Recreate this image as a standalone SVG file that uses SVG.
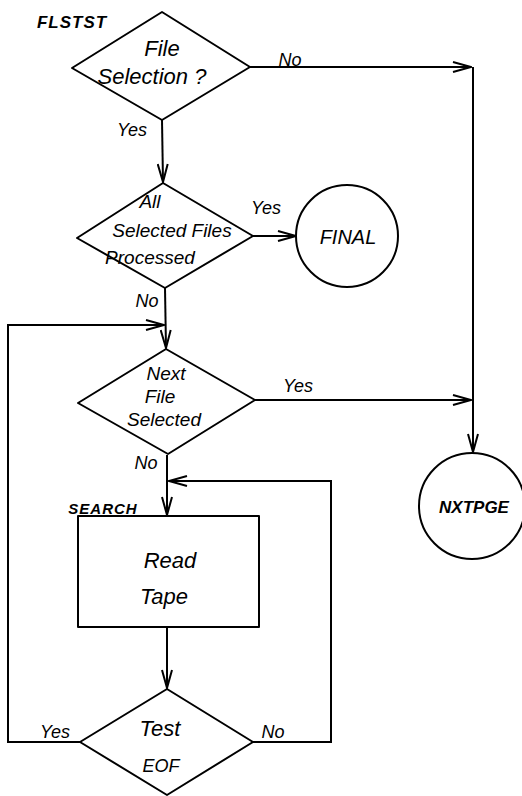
<svg xmlns="http://www.w3.org/2000/svg" width="522" height="796" viewBox="0 0 522 796">
<style>
.s{fill:none;stroke:#000;stroke-width:2;stroke-linejoin:round}
.t{font-family:"Liberation Sans",Arial,sans-serif;font-style:italic;fill:#000;text-anchor:middle}
.c{stroke:#000;stroke-width:2;fill:none}
</style>
<defs>
<marker id="ah" viewBox="0 0 20 12" markerWidth="20" markerHeight="12" refX="19" refY="6" orient="auto" markerUnits="userSpaceOnUse">
<path d="M1,1 L19,6 L1,11" fill="none" stroke="#000" stroke-width="2"/>
</marker>
</defs>
<rect width="522" height="796" fill="#fff"/>
<g id="connectors">
<path class="c" d="M250,67 L471,67" marker-end="url(#ah)"/>
<path class="c" d="M473,67 L473,452" marker-end="url(#ah)"/>
<path class="c" d="M162,120 L163,182" marker-end="url(#ah)"/>
<path class="c" d="M253,236 L296,236" marker-end="url(#ah)"/>
<path class="c" d="M165,288 L166,348" marker-end="url(#ah)"/>
<path class="c" d="M80,742 L8,742 L8,325 L164,325" marker-end="url(#ah)"/>
<path class="c" d="M255,400 L471,400" marker-end="url(#ah)"/>
<path class="c" d="M167,455 L167,515" marker-end="url(#ah)"/>
<path class="c" d="M167,627 L167,688" marker-end="url(#ah)"/>
<path class="c" d="M253,742 L331,742 L331,481 L169,481" marker-end="url(#ah)"/>
<text class="t" x="290" y="66" font-size="18">No</text>
<text class="t" x="132" y="136" font-size="18">Yes</text>
<text class="t" x="266" y="214" font-size="18">Yes</text>
<text class="t" x="147" y="307" font-size="18">No</text>
<text class="t" x="298" y="392" font-size="18">Yes</text>
<text class="t" x="146" y="469" font-size="18">No</text>
<text class="t" x="55" y="738" font-size="18">Yes</text>
<text class="t" x="273" y="738" font-size="18">No</text>
</g>
<g id="flstst">
<text class="t" x="72" y="28" font-size="17" font-weight="bold" letter-spacing="1">FLSTST</text>
<path class="s" d="M162,12 L250,67 L162,120 L72,68 Z"/>
<text class="t" x="162" y="56" font-size="22">File</text>
<text class="t" x="152" y="84" font-size="22">Selection ?</text>
</g>
<g id="allselected">
<path class="s" d="M163,183 L253,236 L165,288 L77,238 Z"/>
<text class="t" x="150" y="208" font-size="19">All</text>
<text class="t" x="172" y="237" font-size="19">Selected Files</text>
<text class="t" x="150" y="264" font-size="19">Processed</text>
</g>
<g id="final">
<circle class="s" cx="347" cy="236" r="51"/>
<text class="t" x="348" y="244" font-size="20">FINAL</text>
</g>
<g id="nextfile">
<path class="s" d="M166,349 L255,400 L168,454 L78,403 Z"/>
<text class="t" x="166" y="380" font-size="19">Next</text>
<text class="t" x="160" y="403" font-size="19">File</text>
<text class="t" x="164" y="426" font-size="19">Selected</text>
</g>
<g id="nxtpge">
<circle class="s" cx="472" cy="506" r="53"/>
<text class="t" x="474" y="513" font-size="17" font-weight="bold">NXTPGE</text>
</g>
<g id="search">
<text class="t" x="103" y="514" font-size="15" font-weight="bold" letter-spacing="1">SEARCH</text>
<rect class="s" x="78" y="516" width="181" height="111"/>
<text class="t" x="170" y="568" font-size="22">Read</text>
<text class="t" x="164" y="604" font-size="22">Tape</text>
</g>
<g id="testeof">
<path class="s" d="M167,689 L253,742 L167,795 L80,742 Z"/>
<text class="t" x="160" y="736" font-size="22">Test</text>
<text class="t" x="161" y="772" font-size="18">EOF</text>
</g>
</svg>
